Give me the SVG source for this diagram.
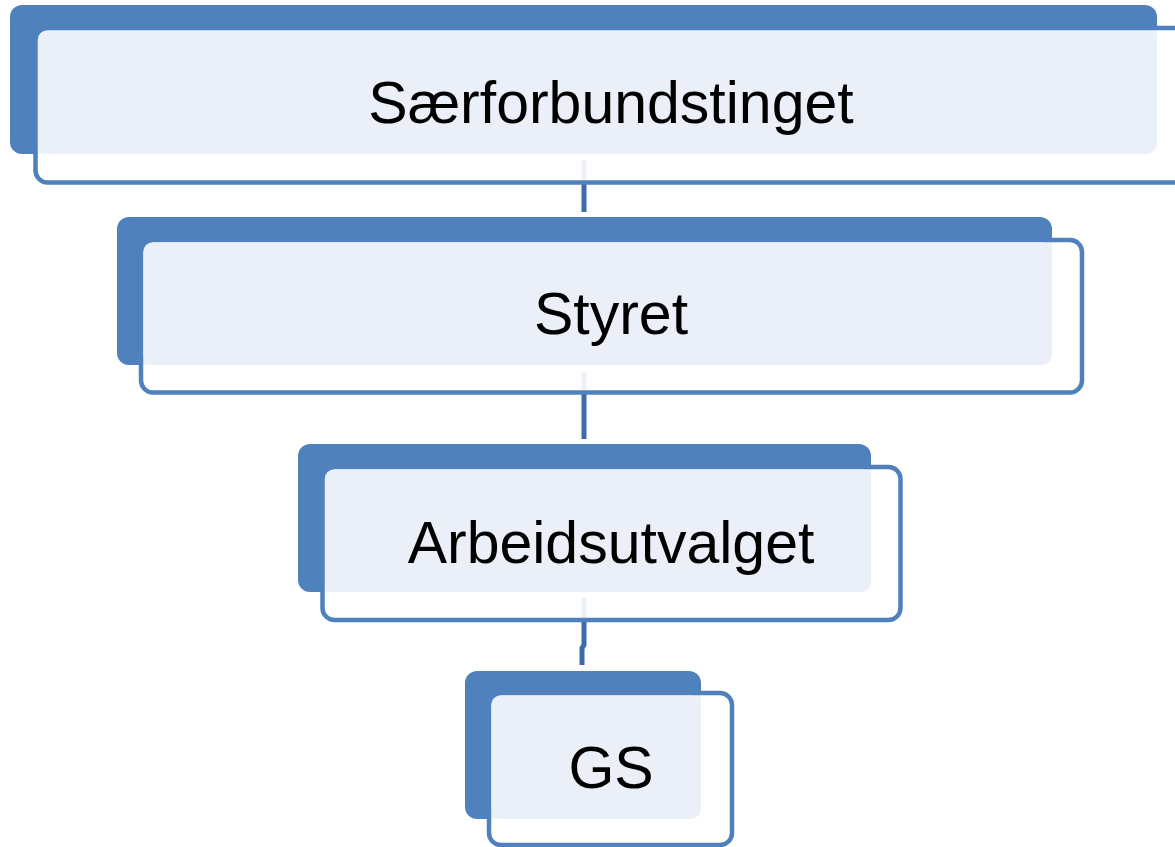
<svg xmlns="http://www.w3.org/2000/svg" width="1175" height="847" viewBox="0 0 1175 847">
<style>
.back{fill:#4f81bd}
.frame{fill:#fff;fill-opacity:0.9;stroke:#4f81bd;stroke-width:4.5}
.face{fill:#ebf0f8}
.lbl{font-family:"Liberation Sans",Arial,sans-serif;font-size:59px;fill:#000;text-anchor:middle}
.conn{stroke:#3d6ca8;stroke-width:5;fill:none}
</style>
<rect width="1175" height="847" fill="#fff"/>
<g id="connectors">
<line class="conn" x1="584" y1="160" x2="584" y2="212"/>
<line class="conn" x1="584" y1="372" x2="584" y2="439"/>
<polyline class="conn" points="584,598 584,645 582,648 582,665"/>
</g>
<g id="n1">
<rect class="back" x="10" y="5" width="1147" height="149" rx="12"/>
<rect class="frame" x="35.5" y="28" width="1160" height="154.5" rx="12"/>
<rect class="face" x="38" y="31" width="1119" height="123" rx="10"/>
<text class="lbl" x="611" y="123">Særforbundstinget</text>
</g>
<g id="n2">
<rect class="back" x="117" y="217" width="935" height="148" rx="12"/>
<rect class="frame" x="141" y="240" width="941" height="152.5" rx="12"/>
<rect class="face" x="143.5" y="242.5" width="908.5" height="122.5" rx="10"/>
<text class="lbl" x="611" y="334">Styret</text>
</g>
<g id="n3">
<rect class="back" x="298" y="444" width="573" height="148" rx="12"/>
<rect class="frame" x="322.5" y="467" width="578" height="153" rx="12"/>
<rect class="face" x="325" y="469.5" width="546" height="122.5" rx="10"/>
<text class="lbl" x="611" y="563">Arbeidsutvalget</text>
</g>
<g id="n4">
<rect class="back" x="465" y="671" width="236" height="148" rx="12"/>
<rect class="frame" x="489" y="693" width="243" height="152" rx="12"/>
<rect class="face" x="491.5" y="695.5" width="209.5" height="123.5" rx="10"/>
<text class="lbl" x="611" y="788">GS</text>
</g>
</svg>
